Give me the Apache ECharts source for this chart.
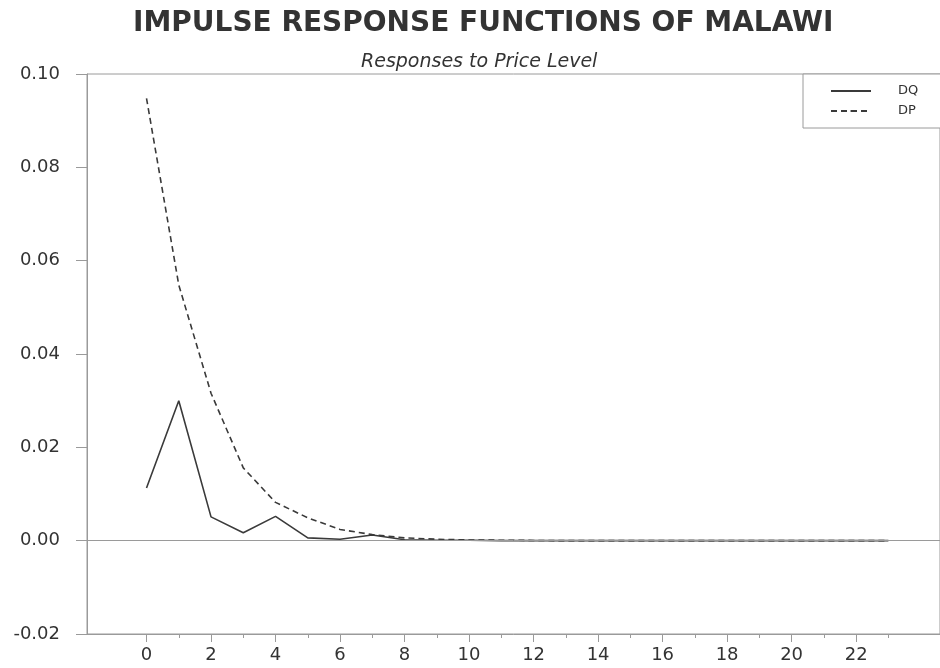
<!DOCTYPE html>
<html>
<head>
<meta charset="utf-8">
<script src="https://cdn.jsdelivr.net/npm/echarts@6/dist/echarts.min.js"></script>
<style>
html,body{margin:0;padding:0;background:#fff;}
#chart{width:940px;height:668px;}
</style>
</head>
<body>
<div id="chart"></div>
<script>
var periods = [0,1,2,3,4,5,6,7,8,9,10,11,12,13,14,15,16,17,18,19,20,21,22,23];
var dq = [0.0113,0.0300,0.0051,0.0017,0.0052,0.0006,0.0003,0.0012,0.0002,0.0001,0.0001,0.0000,0.0000,0.0000,0.0000,0.0000,0.0000,0.0000,0.0000,0.0000,0.0000,0.0000,0.0000,0.0000];
var dp = [0.0948,0.0548,0.0316,0.0156,0.0082,0.0049,0.0024,0.0013,0.0006,0.0003,0.00015,0.0001,0.00005,0.0000,0.0000,0.0000,0.0000,0.0000,0.0000,0.0000,0.0000,0.0000,0.0000,0.0000];
var xLabels = [0,2,4,6,8,10,12,14,16,18,20,22];
var xMinorTicks = [1,3,5,7,9,11,13,15,17,19,21,23];
var titleText = 'IMPULSE RESPONSE FUNCTIONS OF MALAWI';
var subtitleText = 'Responses to Price Level';

function pairs(vals){ return periods.map(function(p,i){ return [p, vals[i]]; }); }

var chart = echarts.init(document.getElementById('chart'), null, {renderer:'canvas'});
var font = '"DejaVu Sans", "Liberation Sans", Arial, sans-serif';
var axisGray = '#9a9a9a';
var lineColor = '#3a3a3a';
var xMin = -1.845, xMax = 24.6;

chart.setOption({
  animation: false,
  backgroundColor: '#fff',
  textStyle: {fontFamily: font},
  title: [
    {text: titleText, left: 128, top: 5,
     textStyle: {fontFamily: font, fontSize: 28, fontWeight: 'bold', color: '#333'}},
    {text: subtitleText, left: 356, top: 48,
     textStyle: {fontFamily: font, fontSize: 19, fontStyle: 'italic', fontWeight: 'normal', color: '#333'}}
  ],
  legend: {
    left: 803, top: 74,
    orient: 'vertical',
    itemWidth: 40, itemHeight: 2, itemGap: 6,
    padding: [10, 40, 10, 27],
    borderColor: axisGray, borderWidth: 1,
    backgroundColor: '#fff',
    textStyle: {fontFamily: font, fontSize: 13, color: '#333', lineHeight: 14, padding: [0,0,0,22]},
    data: ['DQ','DP']
  },
  grid: {left: 87, right: -1, top: 74, bottom: 34, show: true, borderColor: axisGray, borderWidth: 1, containLabel: false},
  xAxis: [
    {type: 'value', min: xMin, max: xMax, position: 'bottom',
     axisLine: {show: true, onZero: false, lineStyle: {color: axisGray, width: 1}},
     axisTick: {show: true, length: 8, customValues: xLabels, lineStyle: {color: axisGray}},
     axisLabel: {customValues: xLabels, color: '#333', fontSize: 18, margin: 12, fontFamily: font},
     splitLine: {show: false}},
    {type: 'value', min: xMin, max: xMax, position: 'bottom',
     axisLine: {show: false, onZero: false},
     axisTick: {show: true, length: 4, customValues: xMinorTicks, lineStyle: {color: axisGray}},
     axisLabel: {show: false, customValues: xMinorTicks},
     splitLine: {show: false}}
  ],
  yAxis: {
    type: 'value', min: -0.02, max: 0.10, interval: 0.02,
    axisLine: {show: true, onZero: false, lineStyle: {color: axisGray, width: 1}},
    axisTick: {show: true, length: 11, lineStyle: {color: axisGray}},
    axisLabel: {color: '#333', fontSize: 18, margin: 27, fontFamily: font,
                formatter: function(v){ return v.toFixed(2); }},
    splitLine: {show: false}
  },
  series: [
    {name: 'DQ', type: 'line', xAxisIndex: 0, data: pairs(dq), symbol: 'none', silent: true,
     lineStyle: {color: lineColor, width: 1.6, type: 'solid'}, itemStyle: {color: lineColor},
     markLine: {silent: true, symbol: 'none', label: {show: false},
                lineStyle: {color: axisGray, width: 1, type: 'solid'}, data: [{yAxis: 0}]}},
    {name: 'DP', type: 'line', xAxisIndex: 0, data: pairs(dp), symbol: 'none', silent: true,
     lineStyle: {color: lineColor, width: 1.6, type: [6, 4]}, itemStyle: {color: lineColor}}
  ]
});
</script>
</body>
</html>
